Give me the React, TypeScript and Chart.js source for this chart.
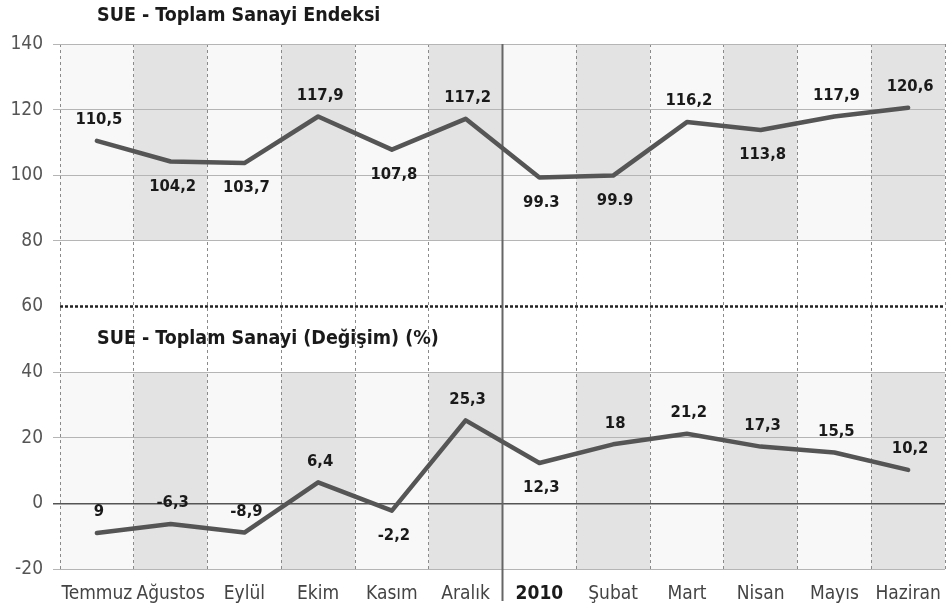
import React, { useEffect, useRef } from "react";
import { Chart, registerables } from "chart.js";

Chart.register(...registerables);

const categories = ["Temmuz", "Ağustos", "Eylül", "Ekim", "Kasım", "Aralık", "2010", "Şubat", "Mart", "Nisan", "Mayıs", "Haziran"];
const indexValues = [110.5, 104.2, 103.7, 117.9, 107.8, 117.2, 99.3, 99.9, 116.2, 113.8, 117.9, 120.6];
const indexLabels = ["110,5", "104,2", "103,7", "117,9", "107,8", "117,2", "99.3", "99.9", "116,2", "113,8", "117,9", "120,6"];
const changeValues = [-9, -6.3, -8.9, 6.4, -2.2, 25.3, 12.3, 18, 21.2, 17.3, 15.5, 10.2];
const changeLabels = ["9", "-6,3", "-8,9", "6,4", "-2,2", "25,3", "12,3", "18", "21,2", "17,3", "15,5", "10,2"];
const yTickValues = [-20, 0, 20, 40, 60, 80, 100, 120, 140];
const titleTop = "SUE - Toplam Sanayi Endeksi";
const titleBottom = "SUE - Toplam Sanayi (Değişim) (%)";

// label placement: -1 above the point, 1 below
const indexLabelSide = [-1, 1, 1, -1, 1, -1, 1, 1, -1, 1, -1, -1];
const changeLabelSide = [-1, -1, -1, -1, 1, -1, 1, -1, -1, -1, -1, -1];

const FONT = '"Liberation Sans Narrow", "DejaVu Sans Condensed", "Roboto Condensed", "Open Sans Condensed", Roboto, sans-serif';

const decorPlugin = {
  id: "decor",
  beforeDraw(chart: any) {
    const { ctx, chartArea, scales } = chart;
    const x = scales.x;
    const y = scales.y;
    const n = categories.length;
    const colW = (chartArea.right - chartArea.left) / n;
    const bands = [
      [80, 140],
      [-20, 40],
    ];
    ctx.save();
    for (let i = 0; i < n; i++) {
      const left = x.getPixelForValue(i) - colW / 2;
      ctx.fillStyle = i % 2 === 1 ? "#e3e3e3" : "#f8f8f8";
      for (const [lo, hi] of bands) {
        const top = y.getPixelForValue(hi);
        const bot = y.getPixelForValue(lo);
        ctx.fillRect(left, top, colW, bot - top);
      }
    }
    ctx.restore();
  },
  beforeDatasetsDraw(chart: any) {
    const { ctx, chartArea, scales } = chart;
    const x = scales.x;
    const y = scales.y;
    ctx.save();
    const y60 = y.getPixelForValue(60);
    ctx.strokeStyle = "#222";
    ctx.lineWidth = 2.5;
    ctx.setLineDash([3, 2]);
    ctx.beginPath();
    ctx.moveTo(chartArea.left, y60);
    ctx.lineTo(chartArea.right, y60);
    ctx.stroke();
    const xs = (x.getPixelForValue(5) + x.getPixelForValue(6)) / 2;
    ctx.setLineDash([]);
    ctx.strokeStyle = "#666";
    ctx.lineWidth = 2;
    ctx.beginPath();
    ctx.moveTo(xs, chartArea.top);
    ctx.lineTo(xs, chartArea.bottom + 32);
    ctx.stroke();
    ctx.fillStyle = "#1a1a1a";
    ctx.font = `bold 19.5px ${FONT}`;
    ctx.textAlign = "left";
    ctx.textBaseline = "middle";
    ctx.fillText(titleTop, chartArea.left + 37, 16);
    ctx.fillText(titleBottom, chartArea.left + 37, y.getPixelForValue(50));
    ctx.restore();
  },
  afterDatasetsDraw(chart: any) {
    const { ctx, scales } = chart;
    const x = scales.x;
    const y = scales.y;
    ctx.save();
    ctx.fillStyle = "#1a1a1a";
    ctx.font = `bold 16.5px ${FONT}`;
    ctx.textAlign = "center";
    ctx.textBaseline = "middle";
    const draw = (vals: number[], labels: string[], sides: number[]) => {
      vals.forEach((v, i) => {
        const px = x.getPixelForValue(i);
        const py = y.getPixelForValue(v);
        const off = sides[i] < 0 ? -21 : 25;
        ctx.fillText(labels[i], px + 2, py + off);
      });
    };
    draw(indexValues, indexLabels, indexLabelSide);
    draw(changeValues, changeLabels, changeLabelSide);
    ctx.restore();
  },
};

export default function App() {
  const ref = useRef<HTMLCanvasElement | null>(null);
  useEffect(() => {
    if (!ref.current) return;
    const chart = new Chart(ref.current, {
      type: "line",
      data: {
        labels: categories,
        datasets: [
          {
            label: titleTop,
            data: indexValues,
            borderColor: "#555555",
            borderWidth: 4.5,
            pointRadius: 0,
            tension: 0,
            borderCapStyle: "round",
            borderJoinStyle: "round",
          },
          {
            label: titleBottom,
            data: changeValues,
            borderColor: "#555555",
            borderWidth: 4.5,
            pointRadius: 0,
            tension: 0,
            borderCapStyle: "round",
            borderJoinStyle: "round",
          },
        ],
      },
      options: {
        animation: false,
        responsive: true,
        maintainAspectRatio: false,
        layout: { padding: { top: 44, right: 2, left: 0, bottom: 0 } },
        plugins: { legend: { display: false }, tooltip: { enabled: false }, title: { display: false } },
        scales: {
          x: {
            type: "category",
            offset: true,
            grid: {
              offset: true,
              drawTicks: false,
              color: "#8a8a8a",
              lineWidth: 1,
            },
            border: { display: false, dash: [3, 3] },
            ticks: {
              padding: 14,
              color: (c: any) => (c.index === 6 ? "#1a1a1a" : "#444"),
              font: (c: any) => ({ family: FONT, size: 19, weight: c.index === 6 ? "bold" : "normal" }),
              maxRotation: 0,
              autoSkip: false,
            },
            afterFit(s: any) {
              s.height = 43;
              s.paddingLeft = 0;
              s.paddingRight = 0;
            },
          },
          y: {
            min: -20,
            max: 140,
            afterBuildTicks(s: any) {
              s.ticks = yTickValues.map((v) => ({ value: v }));
            },
            grid: {
              color: (c: any) => (c.tick && c.tick.value === 60 ? "rgba(0,0,0,0)" : c.tick && c.tick.value === 0 ? "#555" : "#b5b5b5"),
              lineWidth: (c: any) => (c.tick && c.tick.value === 0 ? 1.5 : 1),
              tickLength: 7,
            },
            border: { display: false },
            ticks: {
              padding: 10,
              color: "#555",
              font: { family: FONT, size: 19 },
              callback: (v: any) => String(v),
            },
            afterFit(s: any) {
              s.width = 60;
              s.paddingTop = 0;
              s.paddingBottom = 0;
            },
          },
        },
      },
      plugins: [decorPlugin],
    });
    return () => chart.destroy();
  }, []);
  return (
    <div style={{ position: "fixed", left: 0, top: 0, width: 947, height: 612, background: "#fff" }}>
      <canvas ref={ref} />
    </div>
  );
}
